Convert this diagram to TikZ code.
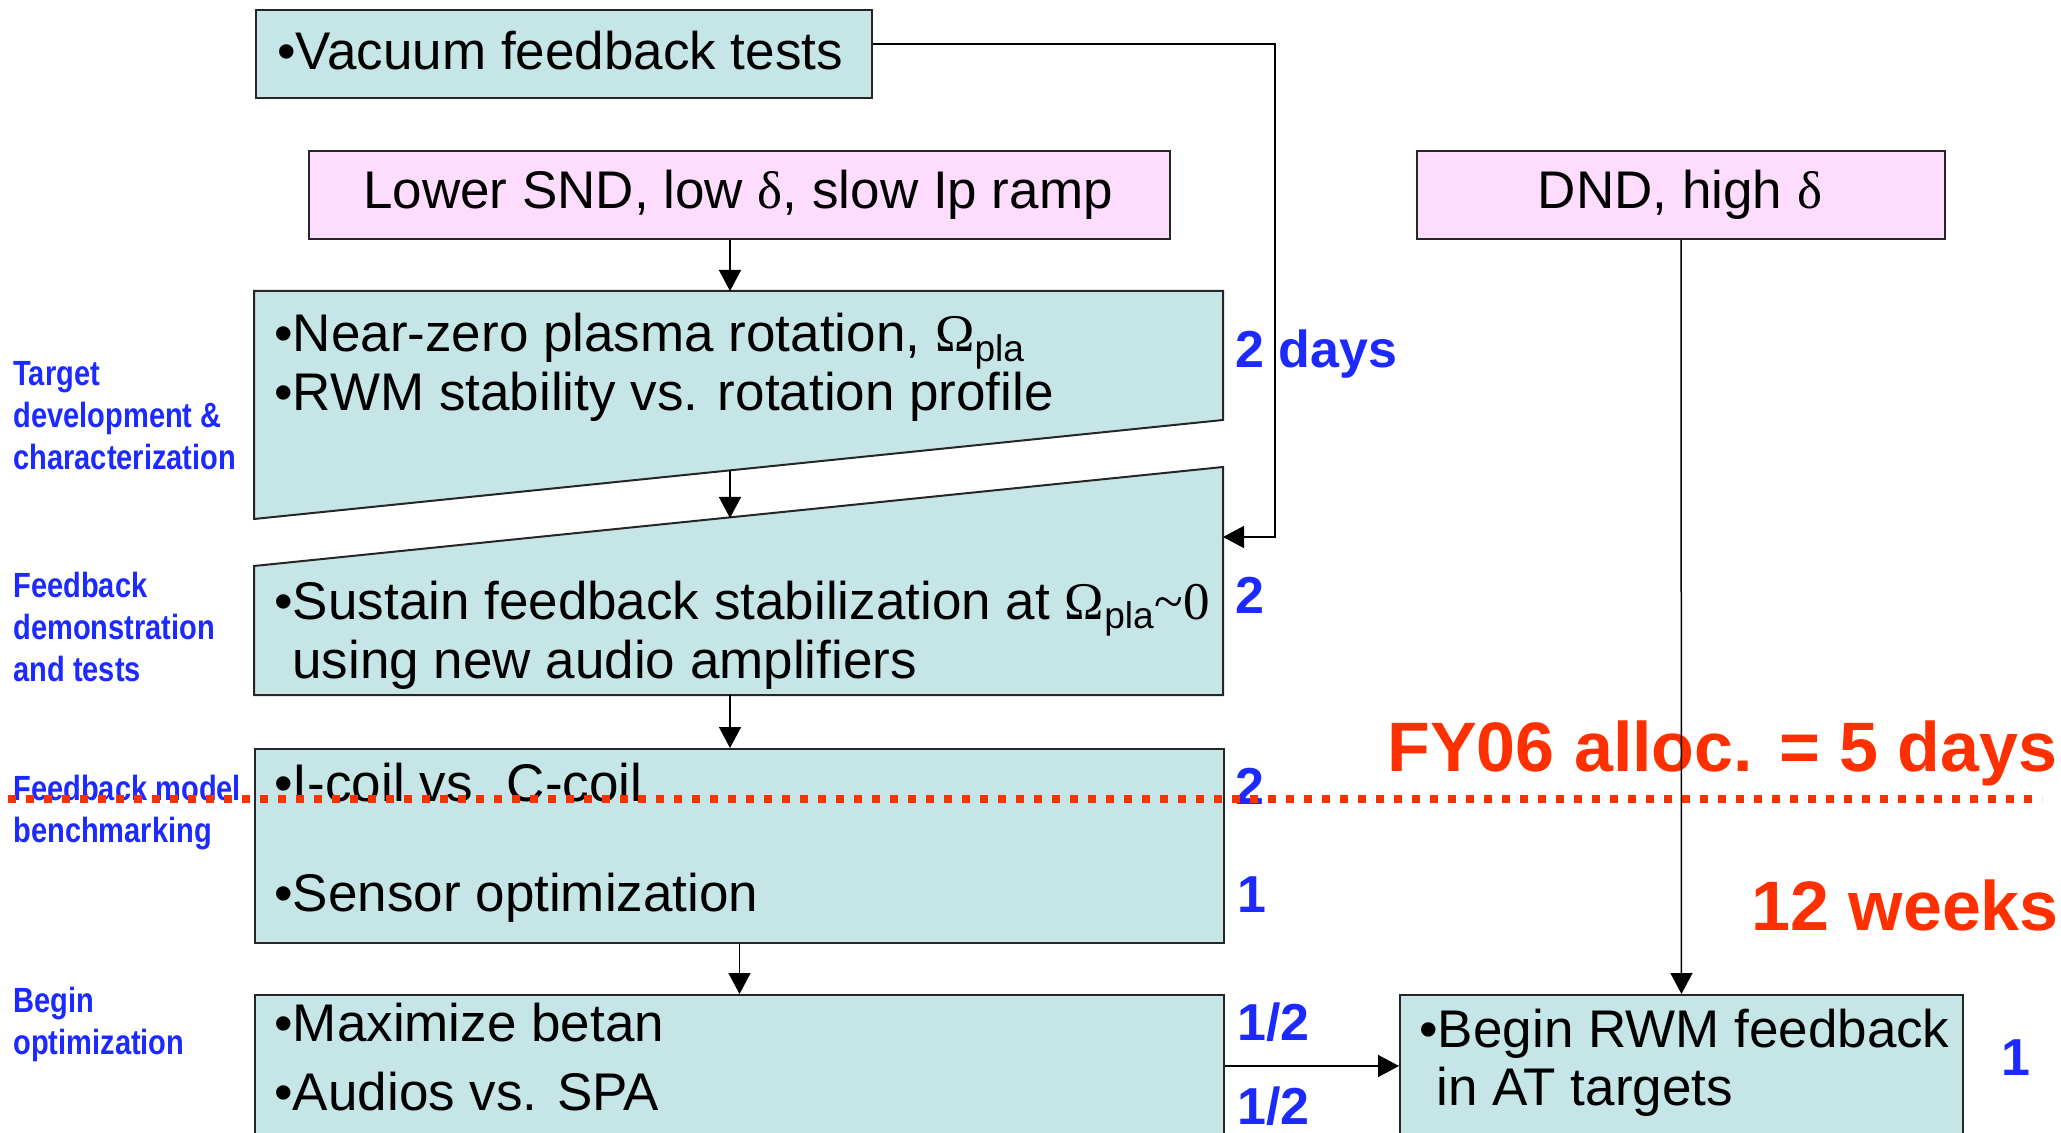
\documentclass[tikz,border=0pt]{standalone}
\usepackage{fontspec}
\setmainfont{Liberation Sans}
\newfontfamily\symfont{Liberation Serif}
\newfontfamily\narrowfont[FakeStretch=0.83]{Liberation Sans}
\usetikzlibrary{arrows.meta}
\definecolor{boxfill}{RGB}{198,229,231}
\definecolor{pinkfill}{RGB}{253,220,253}
\definecolor{lblblue}{RGB}{28,42,255}
\definecolor{allocred}{RGB}{255,48,0}
\newcommand{\Opla}{{\symfont Ω}\textsubscript{pla}}
\newcommand{\dlt}{{\symfont δ}}

\begin{document}
\begin{tikzpicture}[
      x = .5pt, y = -.5pt,
      every node/.style = {inner sep = 0pt},
      box/.style = {draw = black!85, line width = 1pt, fill = boxfill, anchor = north west},
      pinkbox/.style = {box, fill = pinkfill},
      txt/.style = {anchor = base west, font = \fontsize{26.5}{30}\selectfont},
      num/.style = {anchor = base west, text = lblblue, font = \fontsize{26}{30}\selectfont\bfseries},
      phase/.style = {anchor = base west, align = left, text = lblblue,
        font = \narrowfont\fontsize{17.5}{21}\selectfont\bfseries},
      alloc/.style = {anchor = base west, text = allocred, font = \fontsize{35}{40}\selectfont\bfseries},
      conn/.style = {line width = .75pt, ->},
      >= {Triangle[length = 10.5pt, width = 11pt]}
      ]
    \useasboundingbox (0,0) rectangle (2061,1133);
    \clip (0,0) rectangle (2061,1133);
    % boxes
    \node[box, minimum width = 308pt, minimum height = 44pt] (vac) at (255,9) {}; % 0
    \node[pinkbox, minimum width = 430.5pt, minimum height = 44pt] (snd) at (308,150) {}; % 1
    \node[pinkbox, minimum width = 264pt, minimum height = 44pt] (dnd) at (1416,150) {}; % 2
    \draw[box] (254,291) -- (1223,291) -- (1223,420) -- (254,519) -- cycle; % 3
    \draw[box] (254,566) -- (1223,467) -- (1223,695) -- (254,695) -- cycle; % 4
    \node[box, minimum width = 484.5pt, minimum height = 97pt] (coil) at (254,748) {}; % 5
    \node[box, minimum width = 484.5pt, minimum height = 71pt] (opt) at (254,994) {}; % 6
    \node[box, minimum width = 281.5pt, minimum height = 71pt] (rwm) at (1399,994) {}; % 7
    \coordinate (tgtop) at (730,291);
    \coordinate (tgbot) at (730,470);
    \coordinate (fbtop) at (730,518);
    \coordinate (fbbot) at (730,695);
    \coordinate (fbin) at (1223,537);
    \coordinate (vacturn) at (1275,44);
    % box texts
    \node[txt] (vact) at (277,70) {•Vacuum feedback tests};
    \node[txt, anchor = base] (sndt) at (738,209) {Lower SND, low \dlt, slow Ip ramp};
    \node[txt, anchor = base] (dndt) at (1680,209) {DND, high \dlt};
    \node[txt] (tga) at (274,352) {•Near-zero plasma rotation, \Opla};
    \node[txt] (tgb) at (274,411) {•RWM stability vs. rotation profile};
    \node[txt] (fba) at (274,619) {•Sustain feedback stabilization at \Opla{\symfont\textasciitilde 0}};
    \node[txt] (fbb) at (292,678) {using new audio amplifiers};
    \node[txt] (coila) at (274,801) {•I-coil vs. C-coil};
    \node[txt] (coilb) at (274,911) {•Sensor optimization};
    \node[txt] (opta) at (274,1041) {•Maximize betan};
    \node[txt] (optb) at (274,1110) {•Audios vs. SPA};
    \node[txt] (rwma) at (1419,1047) {•Begin RWM feedback};
    \node[txt] (rwmb) at (1436,1105) {in AT targets};
    % days
    \node[num] (d1) at (1235,368) {2 days};
    \node[num] (d2) at (1235,614) {2};
    \node[num] (d3) at (1235,804) {2};
    \node[num] (d4) at (1237,912) {1};
    \node[num] (d5) at (1237,1040) {1/2};
    \node[num] (d6) at (1237,1124) {1/2};
    \node[num] (d7) at (2001,1075) {1};
    % phases (base = last line)
    \node[phase] (p1) at (13,470) {Target\\development \&\\characterization};
    \node[phase] (p2) at (13,681) {Feedback\\demonstration\\and tests};
    \node[phase] (p3) at (13,842) {Feedback model\\benchmarking};
    \node[phase] (p4) at (13,1054) {Begin\\optimization};
    \node[alloc] (fy) at (1387,771) {FY06 alloc. = 5 days};
    \node[alloc] (wk) at (1751,930) {12 weeks};
    % connectors
    \draw[conn] (tgtop |- snd.south) -- (tgtop);
    \draw[conn] (tgbot) -- (fbtop);
    \draw[conn] (fbbot) -- (tgbot |- coil.north);
    \draw[conn] (coil) -- (opt);
    \draw[conn] (vac.east |- vacturn) -- (vacturn) |- (fbin);
    \draw[conn] (dnd) -- (rwm);
    \draw[conn] (opt) -- (rwm);
    \draw[allocred, line width = 4pt, dash pattern = on 4pt off 5pt] (8,799) -- (2042,799);
  \end{tikzpicture}
\end{document}
